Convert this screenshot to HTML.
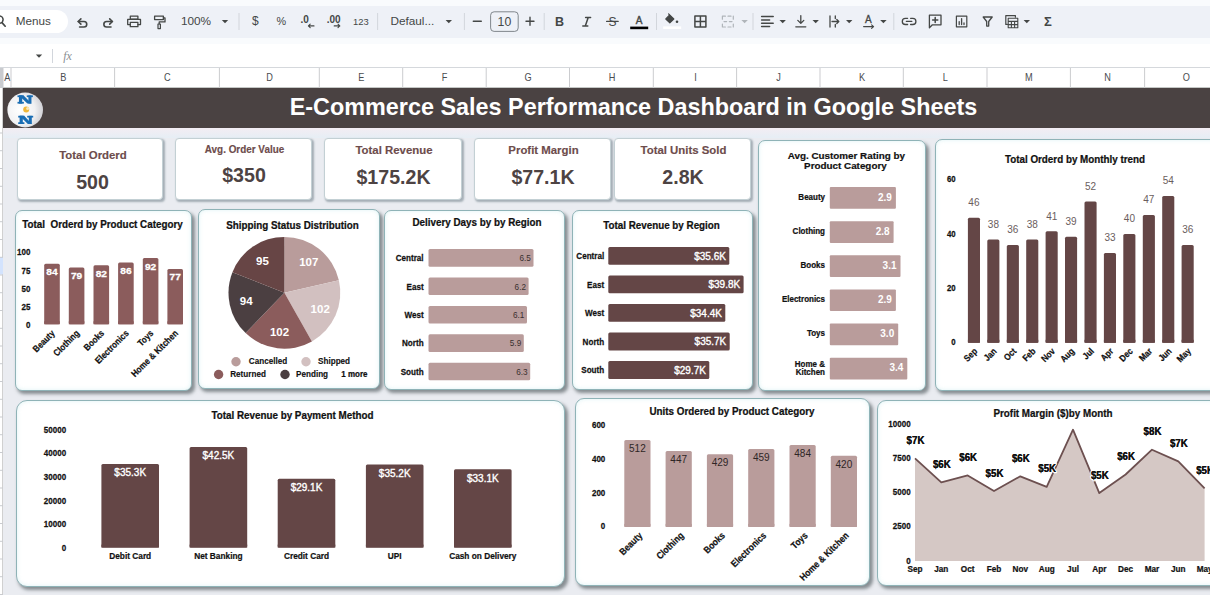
<!DOCTYPE html>
<html>
<head>
<meta charset="utf-8">
<title>E-Commerce Sales Performance Dashboard</title>
<style>
*{box-sizing:border-box;margin:0;padding:0}
html,body{width:1210px;height:595px;overflow:hidden;background:#f9fbfd;font-family:"Liberation Sans",sans-serif}
#root{position:relative;width:1210px;height:595px;overflow:hidden;background:#f9fbfd}
.abs{position:absolute}
#toolbar{left:0;top:6px;width:1210px;height:32px;background:#eef1f7}
#menus{left:-14px;top:10px;width:82px;height:23px;background:#fff;border-radius:12px}
#fbar{left:0;top:44px;width:1210px;height:24px;background:#fff;border-bottom:1px solid #d5d8dc}
#colhdr{left:0;top:68px;width:1210px;height:20px;background:#fff;border-bottom:1px solid #c4c7c5}
#sheet{left:0;top:88px;width:1210px;height:507px;background:#eaecf1}
#strip{left:3px;top:128px;width:1207px;height:10px;background:linear-gradient(#f3edf3,#e6eef5)}
#rowhdr{left:0;top:68px;width:3px;height:527px;background:#fff;border-right:1px solid #d0d0d0}
#banner{left:3px;top:88px;width:1207px;height:40px;background:#4a4242}
#title{left:3px;top:88px;width:1261px;height:40px;line-height:39px;text-align:center;color:#fff;font-weight:bold;font-size:23.4px;white-space:nowrap}
.kpi{position:absolute;background:#fff;border:1px solid #c3d0d4;box-shadow:1.5px 1.5px 2px rgba(80,100,110,.45)}
.card{position:absolute;background:#fff;border:1px solid #8fb3b7;box-shadow:2.5px 3px 3.5px rgba(45,55,60,.52), inset 0 0 4px rgba(200,235,238,.6)}
svg text{font-family:"Liberation Sans",sans-serif}
#main{left:0;top:0}
.tb{font-size:12px;color:#444746;line-height:14px;white-space:nowrap}
.ch{font-size:9.5px;color:#444;top:73px;width:20px;text-align:center;line-height:11px}
.cl{top:68px;width:1px;height:20px;background:#d0d0d0}
</style>
</head>
<body>
<div id="root">
<div id="toolbar" class="abs"></div>
<div id="menus" class="abs"></div>
<div id="fbar" class="abs"></div>
<div id="colhdr" class="abs"></div>
<div id="sheet" class="abs"></div>
<div id="strip" class="abs"></div>
<div id="banner" class="abs"></div>
<div id="title" class="abs">E-Commerce Sales Performance Dashboard in Google Sheets</div>
<div id="rowhdr" class="abs"></div>

<div class="kpi" style="left:17px;top:137.5px;width:146px;height:62.0px;border-radius:4px"></div>
<div class="kpi" style="left:175px;top:137.5px;width:137px;height:62.0px;border-radius:4px"></div>
<div class="kpi" style="left:324px;top:137.5px;width:138px;height:62.0px;border-radius:4px"></div>
<div class="kpi" style="left:474px;top:137.5px;width:137px;height:62.0px;border-radius:4px"></div>
<div class="kpi" style="left:614px;top:137.5px;width:137px;height:62.0px;border-radius:4px"></div>
<div class="card" style="left:15px;top:210px;width:177px;height:181px;border-radius:7px"></div>
<div class="card" style="left:198px;top:209px;width:182px;height:180px;border-radius:7px"></div>
<div class="card" style="left:384px;top:210px;width:181px;height:180px;border-radius:7px"></div>
<div class="card" style="left:572px;top:210px;width:181px;height:180px;border-radius:7px"></div>
<div class="card" style="left:758px;top:140px;width:168px;height:251px;border-radius:7px"></div>
<div class="card" style="left:935px;top:139px;width:295px;height:252px;border-radius:7px"></div>
<div class="card" style="left:15.5px;top:400px;width:549.5px;height:186.60000000000002px;border-radius:11px"></div>
<div class="card" style="left:575px;top:398px;width:295px;height:188px;border-radius:9px"></div>
<div class="card" style="left:877px;top:400px;width:353px;height:186px;border-radius:9px"></div>
<svg id="main" class="abs" width="1210" height="595" viewBox="0 0 1210 595">
<path d="M2,22.6 l3.2,3.6" stroke="#444746" stroke-width="1.7" fill="none" stroke-linecap="round" stroke-linejoin="round" />
<circle cx="-0.6" cy="19.6" r="3.7" fill="none" stroke="#444746" stroke-width="1.5"/>
<text x="33.2" y="25.2" font-size="11.7" font-weight="normal" fill="#444746" text-anchor="middle" >Menus</text>
<path d="M78.2,21.5 h5.8 a2.75,2.75 0 0 1 0,5.5 h-4.4" stroke="#444746" stroke-width="1.6" fill="none" stroke-linecap="round" stroke-linejoin="round" />
<path d="M80.9,18.9 l-2.7,2.6 l2.7,2.6" stroke="#444746" stroke-width="1.6" fill="none" stroke-linecap="round" stroke-linejoin="round" />
<path d="M112.4,21.5 h-5.8 a2.75,2.75 0 0 0 0,5.5 h4.4" stroke="#444746" stroke-width="1.6" fill="none" stroke-linecap="round" stroke-linejoin="round" />
<path d="M109.7,18.9 l2.7,2.6 l-2.7,2.6" stroke="#444746" stroke-width="1.6" fill="none" stroke-linecap="round" stroke-linejoin="round" />
<path d="M130.3,16.2 h7.6 v3 h-7.6 z" stroke="#444746" stroke-width="1.3" fill="none" stroke-linecap="round" stroke-linejoin="round" />
<path d="M130.3,24.6 h-2.6 v-5.2 h12.8 v5.2 h-2.6" stroke="#444746" stroke-width="1.3" fill="none" stroke-linecap="round" stroke-linejoin="round" />
<path d="M130.3,22.4 h7.6 v4.3 h-7.6 z" stroke="#444746" stroke-width="1.3" fill="none" stroke-linecap="round" stroke-linejoin="round" />
<path d="M154.6,16.2 h8.8 v3.4 h-8.8 z" stroke="#444746" stroke-width="1.3" fill="none" stroke-linecap="round" stroke-linejoin="round" />
<path d="M163.4,17.9 h1.6 v4 h-5.8 v2" stroke="#444746" stroke-width="1.3" fill="none" stroke-linecap="round" stroke-linejoin="round" />
<path d="M158,24 h2.4 v4.6 h-2.4 z" stroke="#444746" stroke-width="1.2" fill="none" stroke-linecap="round" stroke-linejoin="round" />
<text x="196" y="25.3" font-size="11.8" font-weight="normal" fill="#444746" text-anchor="middle" >100%</text>
<path d="M221.8,19.9 h6.4 l-3.2,3.4 z" fill="#444746"/>
<rect x="238.5" y="13" width="1" height="17" fill="#d2d6dc"/>
<text x="255.4" y="25.3" font-size="12" font-weight="normal" fill="#444746" text-anchor="middle" >$</text>
<text x="281.4" y="25" font-size="10.8" font-weight="normal" fill="#444746" text-anchor="middle" >%</text>
<text x="304.6" y="23" font-size="10" font-weight="bold" fill="#444746" text-anchor="middle" >.0</text>
<path d="M308.4,25.9 h5.6 M310.2,24.1 l-1.8,1.8 l1.8,1.8" stroke="#444746" stroke-width="1.1" fill="none" stroke-linecap="round" stroke-linejoin="round" />
<text x="333.6" y="23" font-size="10" font-weight="bold" fill="#444746" text-anchor="middle" >.00</text>
<path d="M334.2,25.9 h5.6 M338,24.1 l1.8,1.8 l-1.8,1.8" stroke="#444746" stroke-width="1.1" fill="none" stroke-linecap="round" stroke-linejoin="round" />
<text x="360.8" y="24.6" font-size="9.4" font-weight="normal" fill="#444746" text-anchor="middle" >123</text>
<rect x="377.1" y="13" width="1" height="17" fill="#d2d6dc"/>
<text x="390.4" y="25.2" font-size="11.8" font-weight="normal" fill="#444746" text-anchor="start" >Defaul...</text>
<path d="M445.6,19.9 h6.4 l-3.2,3.4 z" fill="#444746"/>
<rect x="463.9" y="13" width="1" height="17" fill="#d2d6dc"/>
<path d="M473.3,21.2 h8" stroke="#444746" stroke-width="1.4" fill="none" stroke-linecap="round" stroke-linejoin="round" />
<rect x="490.6" y="11.8" width="27.6" height="19.6" rx="3.5" fill="none" stroke="#747a80" stroke-width="0.9"/>
<text x="504.4" y="25.6" font-size="12.3" font-weight="normal" fill="#444746" text-anchor="middle" >10</text>
<path d="M526,21.2 h8 M530,17.2 v8" stroke="#444746" stroke-width="1.4" fill="none" stroke-linecap="round" stroke-linejoin="round" />
<rect x="543.7" y="13" width="1" height="17" fill="#d2d6dc"/>
<text x="559.6" y="26" font-size="12.5" font-weight="bold" fill="#444746" text-anchor="middle" >B</text>
<path d="M585.6,17.6 h5 M582.8,26 h5 M588.2,17.6 l-2.9,8.4" stroke="#444746" stroke-width="1.5" fill="none" stroke-linecap="round" stroke-linejoin="round" />
<text x="612.4" y="25.6" font-size="12" font-weight="normal" fill="#444746" text-anchor="middle" >S</text>
<path d="M606.6,21.4 h11.6" stroke="#444746" stroke-width="1.2" fill="none" stroke-linecap="round" stroke-linejoin="round" />
<text x="639.2" y="23.8" font-size="10" font-weight="normal" fill="#444746" text-anchor="middle" stroke="#444746" stroke-width="0.4">A</text>
<rect x="630.2" y="26.6" width="18" height="2.6" fill="#000"/>
<rect x="656.0" y="13" width="1" height="17" fill="#d2d6dc"/>
<path d="M668.6,13.8 l5.2,5.2 l-4,3.8 l-4,-3.8 l3.4,-3.6" stroke="#444746" stroke-width="1.2" fill="#444746" stroke-linecap="round" stroke-linejoin="round" />
<circle cx="677" cy="21.8" r="1.3" fill="#444746"/>
<rect x="663.2" y="26.4" width="18" height="2.6" fill="#fff"/>
<path d="M694.9,16 h11 v11 h-11 z M700.4,16 v11 M694.9,21.5 h11" stroke="#444746" stroke-width="1.5" fill="none" stroke-linecap="round" stroke-linejoin="round" />
<path d="M722.4,16.2 h3 M728,16.2 h3 M733.3,16.2 v3 M722.4,16.2 v3 M722.4,24 v3 h3 M728,27 h3 M733.3,24 v3 M724,21.6 h2.6 M729.4,21.6 h2.6" stroke="#b0b5ba" stroke-width="1.2" fill="none" stroke-linecap="round" stroke-linejoin="round" />
<path d="M741.4,19.9 h6.4 l-3.2,3.4 z" fill="#b0b5ba"/>
<rect x="752.5" y="13" width="1" height="17" fill="#d2d6dc"/>
<path d="M761.6,16.6 h11.6 M761.6,19.9 h8 M761.6,23.2 h11.6 M761.6,26.5 h8" stroke="#444746" stroke-width="1.5" fill="none" stroke-linecap="round" stroke-linejoin="round" />
<path d="M779.5,19.9 h6.4 l-3.2,3.4 z" fill="#444746"/>
<path d="M800.8,15.6 v7.6 M797.8,20.4 l3,3 l3,-3 M795.8,26.8 h10" stroke="#444746" stroke-width="1.3" fill="none" stroke-linecap="round" stroke-linejoin="round" />
<path d="M812.5,19.9 h6.4 l-3.2,3.4 z" fill="#444746"/>
<path d="M830,16 v11 M835.3,16 v2.6 M835.3,24.4 v2.6 M832,21.5 h6.6 M836.8,19.5 l2,2 l-2,2" stroke="#444746" stroke-width="1.3" fill="none" stroke-linecap="round" stroke-linejoin="round" />
<path d="M846.0,19.9 h6.4 l-3.2,3.4 z" fill="#444746"/>
<text x="868.4" y="23.4" font-size="10" font-weight="normal" fill="#444746" text-anchor="middle" stroke="#444746" stroke-width="0.3">A</text>
<path d="M863.6,26.6 h10 M871.6,24.8 l2,1.8 l-2,1.8" stroke="#444746" stroke-width="1.1" fill="none" stroke-linecap="round" stroke-linejoin="round" />
<path d="M880.1999999999999,19.9 h6.4 l-3.2,3.4 z" fill="#444746"/>
<rect x="893.3" y="13" width="1" height="17" fill="#d2d6dc"/>
<path d="M907.6,18.3 h-2.2 a3.1,3.1 0 0 0 0,6.2 h2.2 M910.6,18.3 h2.2 a3.1,3.1 0 0 1 0,6.2 h-2.2 M906.4,21.4 h5.4" stroke="#444746" stroke-width="1.3" fill="none" stroke-linecap="round" stroke-linejoin="round" />
<path d="M929.4,15.2 h11.6 v9.6 h-8.6 l-3,3 z" stroke="#444746" stroke-width="1.3" fill="none" stroke-linecap="round" stroke-linejoin="round" />
<path d="M935.2,17.4 v5.2 M932.6,20 h5.2" stroke="#444746" stroke-width="1.5" fill="none" stroke-linecap="round" stroke-linejoin="round" />
<path d="M956.4,16.2 h10.4 v10.6 h-10.4 z" stroke="#444746" stroke-width="1.2" fill="none" stroke-linecap="round" stroke-linejoin="round" />
<path d="M959.2,24.6 v-3 M961.6,24.6 v-6 M964,24.6 v-1.6" stroke="#444746" stroke-width="1.3" fill="none" stroke-linecap="round" stroke-linejoin="round" />
<path d="M983.2,17 h9 l-3.5,4.5 v4.6 h-2 v-4.6 z" stroke="#444746" stroke-width="1.3" fill="none" stroke-linecap="round" stroke-linejoin="round" />
<path d="M1007.4,24.4 h-1.6 v-8.8 h9.6 v1.6" stroke="#444746" stroke-width="1.2" fill="none" stroke-linecap="round" stroke-linejoin="round" />
<path d="M1008.2,18.2 h9.6 v9.6 h-9.6 z M1008.2,21.4 h9.6 M1011.4,21.4 v6.4 M1014.6,21.4 v6.4 M1008.2,24.6 h9.6" stroke="#444746" stroke-width="1.1" fill="none" stroke-linecap="round" stroke-linejoin="round" />
<path d="M1023.5999999999999,19.9 h6.4 l-3.2,3.4 z" fill="#444746"/>
<text x="1047.8" y="26" font-size="13" font-weight="bold" fill="#444746" text-anchor="middle" >&#931;</text>
<path d="M35.8,54.4 h6.4 l-3.2,3.4 z" fill="#444746"/>
<rect x="52" y="49" width="1" height="14" fill="#d2d6dc"/>
<text x="67.5" y="60" font-size="12" font-weight="normal" fill="#8a8f94" text-anchor="middle" font-style="italic" style="font-family:'Liberation Serif',serif">fx</text>
<text transform="translate(7.4,80.7) scale(1,1.1)" font-size="9.2" fill="#4a4d50" text-anchor="middle">A</text>
<text transform="translate(63.2,80.7) scale(1,1.1)" font-size="9.2" fill="#4a4d50" text-anchor="middle">B</text>
<text transform="translate(167.4,80.7) scale(1,1.1)" font-size="9.2" fill="#4a4d50" text-anchor="middle">C</text>
<text transform="translate(269.5,80.7) scale(1,1.1)" font-size="9.2" fill="#4a4d50" text-anchor="middle">D</text>
<text transform="translate(361.2,80.7) scale(1,1.1)" font-size="9.2" fill="#4a4d50" text-anchor="middle">E</text>
<text transform="translate(444.6,80.7) scale(1,1.1)" font-size="9.2" fill="#4a4d50" text-anchor="middle">F</text>
<text transform="translate(528,80.7) scale(1,1.1)" font-size="9.2" fill="#4a4d50" text-anchor="middle">G</text>
<text transform="translate(612,80.7) scale(1,1.1)" font-size="9.2" fill="#4a4d50" text-anchor="middle">H</text>
<text transform="translate(695.5,80.7) scale(1,1.1)" font-size="9.2" fill="#4a4d50" text-anchor="middle">I</text>
<text transform="translate(778.5,80.7) scale(1,1.1)" font-size="9.2" fill="#4a4d50" text-anchor="middle">J</text>
<text transform="translate(862,80.7) scale(1,1.1)" font-size="9.2" fill="#4a4d50" text-anchor="middle">K</text>
<text transform="translate(945.3,80.7) scale(1,1.1)" font-size="9.2" fill="#4a4d50" text-anchor="middle">L</text>
<text transform="translate(1028.9,80.7) scale(1,1.1)" font-size="9.2" fill="#4a4d50" text-anchor="middle">M</text>
<text transform="translate(1107.5,80.7) scale(1,1.1)" font-size="9.2" fill="#4a4d50" text-anchor="middle">N</text>
<text transform="translate(1186.2,80.7) scale(1,1.1)" font-size="9.2" fill="#4a4d50" text-anchor="middle">O</text>
<rect x="2.5" y="68" width="1" height="20" fill="#cbcccf"/>
<rect x="10.5" y="68" width="1" height="20" fill="#cbcccf"/>
<rect x="114.1" y="68" width="1" height="20" fill="#cbcccf"/>
<rect x="218.9" y="68" width="1" height="20" fill="#cbcccf"/>
<rect x="318.8" y="68" width="1" height="20" fill="#cbcccf"/>
<rect x="402.2" y="68" width="1" height="20" fill="#cbcccf"/>
<rect x="485.7" y="68" width="1" height="20" fill="#cbcccf"/>
<rect x="569.0" y="68" width="1" height="20" fill="#cbcccf"/>
<rect x="652.8" y="68" width="1" height="20" fill="#cbcccf"/>
<rect x="736.1" y="68" width="1" height="20" fill="#cbcccf"/>
<rect x="819.5" y="68" width="1" height="20" fill="#cbcccf"/>
<rect x="902.8" y="68" width="1" height="20" fill="#cbcccf"/>
<rect x="986.5" y="68" width="1" height="20" fill="#cbcccf"/>
<rect x="1069.9" y="68" width="1" height="20" fill="#cbcccf"/>
<rect x="1144.1" y="68" width="1" height="20" fill="#cbcccf"/>
<rect x="0" y="68" width="3" height="20" fill="#c9cbcf"/>
<rect x="0" y="257" width="3" height="17.6" fill="#d3e3fd"/>
<rect x="0" y="132.5" width="3" height="1" fill="#c9cbcf"/>
<rect x="0" y="150.2" width="3" height="1" fill="#c9cbcf"/>
<rect x="0" y="168.0" width="3" height="1" fill="#c9cbcf"/>
<rect x="0" y="185.8" width="3" height="1" fill="#c9cbcf"/>
<rect x="0" y="203.5" width="3" height="1" fill="#c9cbcf"/>
<rect x="0" y="221.2" width="3" height="1" fill="#c9cbcf"/>
<rect x="0" y="239.0" width="3" height="1" fill="#c9cbcf"/>
<rect x="0" y="256.8" width="3" height="1" fill="#c9cbcf"/>
<rect x="0" y="274.5" width="3" height="1" fill="#c9cbcf"/>
<rect x="0" y="292.2" width="3" height="1" fill="#c9cbcf"/>
<rect x="0" y="310.0" width="3" height="1" fill="#c9cbcf"/>
<rect x="0" y="327.8" width="3" height="1" fill="#c9cbcf"/>
<rect x="0" y="345.5" width="3" height="1" fill="#c9cbcf"/>
<rect x="0" y="363.2" width="3" height="1" fill="#c9cbcf"/>
<rect x="0" y="381.0" width="3" height="1" fill="#c9cbcf"/>
<rect x="0" y="398.8" width="3" height="1" fill="#c9cbcf"/>
<rect x="0" y="416.5" width="3" height="1" fill="#c9cbcf"/>
<rect x="0" y="434.2" width="3" height="1" fill="#c9cbcf"/>
<rect x="0" y="452.0" width="3" height="1" fill="#c9cbcf"/>
<rect x="0" y="469.8" width="3" height="1" fill="#c9cbcf"/>
<rect x="0" y="487.5" width="3" height="1" fill="#c9cbcf"/>
<rect x="0" y="505.2" width="3" height="1" fill="#c9cbcf"/>
<rect x="0" y="523.0" width="3" height="1" fill="#c9cbcf"/>
<rect x="0" y="540.8" width="3" height="1" fill="#c9cbcf"/>
<rect x="0" y="558.5" width="3" height="1" fill="#c9cbcf"/>
<rect x="0" y="576.2" width="3" height="1" fill="#c9cbcf"/>
<rect x="0" y="594.0" width="3" height="1" fill="#c9cbcf"/>
<defs><radialGradient id="lg" cx="0.35" cy="0.5" r="0.7"><stop offset="0" stop-color="#ffffff"/><stop offset="0.6" stop-color="#f1f1f3"/><stop offset="1" stop-color="#c9c9cf"/></radialGradient></defs>
<ellipse cx="25.2" cy="110" rx="17.8" ry="17.4" fill="url(#lg)"/>
<g transform="translate(17.5,95.4) scale(1.027,1.025)" fill="#1a6db3"><rect x="0" y="0" width="6" height="1.7"/><rect x="1.4" y="0" width="3.2" height="8"/><rect x="0" y="6.3" width="6.2" height="1.7"/><rect x="9" y="0" width="6" height="1.7"/><rect x="10.6" y="0" width="3" height="8"/><polygon points="1.4,0 6,0 13.6,8 9.6,8"/></g>
<g transform="translate(18.2,115.8) scale(1.000,1.025)" fill="#1a6db3"><rect x="0" y="0" width="6" height="1.7"/><rect x="1.4" y="0" width="3.2" height="8"/><rect x="0" y="6.3" width="6.2" height="1.7"/><rect x="9" y="0" width="6" height="1.7"/><rect x="10.6" y="0" width="3" height="8"/><polygon points="1.4,0 6,0 13.6,8 9.6,8"/></g>
<circle cx="26.2" cy="109.4" r="3" fill="#f0b73a"/>
<circle cx="27.6" cy="108.6" r="1.5" fill="#f7e6b8"/>
<text transform="translate(93.0,158.7) scale(1,1.03)" font-size="11.4" font-weight="bold" fill="#6d4c4c" text-anchor="middle" stroke="#6d4c4c" stroke-width="0.15" >Total Orderd</text>
<text transform="translate(92.5,188.6) scale(1,1.0)" font-size="19.6" font-weight="bold" fill="#4d4343" text-anchor="middle" >500</text>
<text transform="translate(244.5,152.9) scale(1,1.08)" font-size="9.9" font-weight="bold" fill="#6d4c4c" text-anchor="middle" stroke="#6d4c4c" stroke-width="0.15" >Avg. Order Value</text>
<text transform="translate(244.0,182.2) scale(1,1.0)" font-size="19.6" font-weight="bold" fill="#4d4343" text-anchor="middle" >$350</text>
<text transform="translate(394.0,154.1) scale(1,1.03)" font-size="11.4" font-weight="bold" fill="#6d4c4c" text-anchor="middle" stroke="#6d4c4c" stroke-width="0.15" >Total Revenue</text>
<text transform="translate(393.5,183.8) scale(1,1.0)" font-size="19.6" font-weight="bold" fill="#4d4343" text-anchor="middle" >$175.2K</text>
<text transform="translate(543.5,154.1) scale(1,1.03)" font-size="11.4" font-weight="bold" fill="#6d4c4c" text-anchor="middle" stroke="#6d4c4c" stroke-width="0.15" >Profit Margin</text>
<text transform="translate(543.0,183.8) scale(1,1.0)" font-size="19.6" font-weight="bold" fill="#4d4343" text-anchor="middle" >$77.1K</text>
<text transform="translate(683.5,154.1) scale(1,1.03)" font-size="11.4" font-weight="bold" fill="#6d4c4c" text-anchor="middle" stroke="#6d4c4c" stroke-width="0.15" >Total Units Sold</text>
<text transform="translate(683.0,183.8) scale(1,1.0)" font-size="19.6" font-weight="bold" fill="#4d4343" text-anchor="middle" >2.8K</text>
<text transform="translate(22.3,228.2) scale(1,1.12)" font-size="9.85" font-weight="bold" fill="#111" text-anchor="start" stroke="#111" stroke-width="0.22" xml:space="preserve">Total  Orderd by Product Category</text>
<text transform="translate(30.4,255.4) scale(1,1.2)" font-size="8.0" font-weight="bold" fill="#111" text-anchor="end" stroke="#111" stroke-width="0.22" >100</text>
<text transform="translate(30.4,273.5) scale(1,1.2)" font-size="8.0" font-weight="bold" fill="#111" text-anchor="end" stroke="#111" stroke-width="0.22" >75</text>
<text transform="translate(30.4,291.5) scale(1,1.2)" font-size="8.0" font-weight="bold" fill="#111" text-anchor="end" stroke="#111" stroke-width="0.22" >50</text>
<text transform="translate(30.4,309.6) scale(1,1.2)" font-size="8.0" font-weight="bold" fill="#111" text-anchor="end" stroke="#111" stroke-width="0.22" >25</text>
<text transform="translate(30.4,327.6) scale(1,1.2)" font-size="8.0" font-weight="bold" fill="#111" text-anchor="end" stroke="#111" stroke-width="0.22" >0</text>
<rect x="44.2" y="263.8" width="15.6" height="60.5" fill="#8b5c5c" rx="1.5" />
<rect x="44.2" y="321.3" width="15.6" height="3.0" fill="#8b5c5c" rx="0" />
<text transform="translate(52.0,275.3) scale(1,0.93)" font-size="10.2" font-weight="bold" fill="#fff" text-anchor="middle" stroke="#fff" stroke-width="0.3" >84</text>
<text transform="translate(55.4,333.9) rotate(-45) scale(1,1.15)" font-size="8.0" font-weight="bold" fill="#111" stroke="#111" stroke-width="0.2" text-anchor="end">Beauty</text>
<rect x="68.8" y="267.4" width="15.6" height="56.9" fill="#8b5c5c" rx="1.5" />
<rect x="68.8" y="321.3" width="15.6" height="3.0" fill="#8b5c5c" rx="0" />
<text transform="translate(76.6,278.9) scale(1,0.93)" font-size="10.2" font-weight="bold" fill="#fff" text-anchor="middle" stroke="#fff" stroke-width="0.3" >79</text>
<text transform="translate(80.0,333.9) rotate(-45) scale(1,1.15)" font-size="8.0" font-weight="bold" fill="#111" stroke="#111" stroke-width="0.2" text-anchor="end">Clothing</text>
<rect x="93.5" y="265.3" width="15.6" height="59.0" fill="#8b5c5c" rx="1.5" />
<rect x="93.5" y="321.3" width="15.6" height="3.0" fill="#8b5c5c" rx="0" />
<text transform="translate(101.3,276.8) scale(1,0.93)" font-size="10.2" font-weight="bold" fill="#fff" text-anchor="middle" stroke="#fff" stroke-width="0.3" >82</text>
<text transform="translate(104.7,333.9) rotate(-45) scale(1,1.15)" font-size="8.0" font-weight="bold" fill="#111" stroke="#111" stroke-width="0.2" text-anchor="end">Books</text>
<rect x="118.1" y="262.4" width="15.6" height="61.9" fill="#8b5c5c" rx="1.5" />
<rect x="118.1" y="321.3" width="15.6" height="3.0" fill="#8b5c5c" rx="0" />
<text transform="translate(125.9,273.9) scale(1,0.93)" font-size="10.2" font-weight="bold" fill="#fff" text-anchor="middle" stroke="#fff" stroke-width="0.3" >86</text>
<text transform="translate(129.3,333.9) rotate(-45) scale(1,1.15)" font-size="8.0" font-weight="bold" fill="#111" stroke="#111" stroke-width="0.2" text-anchor="end">Electronics</text>
<rect x="142.8" y="258.1" width="15.6" height="66.2" fill="#8b5c5c" rx="1.5" />
<rect x="142.8" y="321.3" width="15.6" height="3.0" fill="#8b5c5c" rx="0" />
<text transform="translate(150.6,269.6) scale(1,0.93)" font-size="10.2" font-weight="bold" fill="#fff" text-anchor="middle" stroke="#fff" stroke-width="0.3" >92</text>
<text transform="translate(154.0,333.9) rotate(-45) scale(1,1.15)" font-size="8.0" font-weight="bold" fill="#111" stroke="#111" stroke-width="0.2" text-anchor="end">Toys</text>
<rect x="167.4" y="268.9" width="15.6" height="55.4" fill="#8b5c5c" rx="1.5" />
<rect x="167.4" y="321.3" width="15.6" height="3.0" fill="#8b5c5c" rx="0" />
<text transform="translate(175.2,280.4) scale(1,0.93)" font-size="10.2" font-weight="bold" fill="#fff" text-anchor="middle" stroke="#fff" stroke-width="0.3" >77</text>
<text transform="translate(178.6,333.9) rotate(-45) scale(1,1.15)" font-size="8.0" font-weight="bold" fill="#111" stroke="#111" stroke-width="0.2" text-anchor="end">Home &amp; Kitchen</text>
<text transform="translate(292.5,228.7) scale(1,1.12)" font-size="9.85" font-weight="bold" fill="#111" text-anchor="middle" stroke="#111" stroke-width="0.22" >Shipping Status Distribution</text>
<path d="M284.4,292.8 L284.40,236.90 A55.9,55.9 0 0 1 338.88,280.26 Z" fill="#b99c9b"/>
<text transform="translate(308.8,266.3) scale(1,1.0)" font-size="11.5" font-weight="bold" fill="#fff" text-anchor="middle" >107</text>
<path d="M284.4,292.8 L338.88,280.26 A55.9,55.9 0 0 1 311.94,341.44 Z" fill="#d2c0c0"/>
<text transform="translate(320.2,312.7) scale(1,1.0)" font-size="11.5" font-weight="bold" fill="#fff" text-anchor="middle" >102</text>
<path d="M284.4,292.8 L311.94,341.44 A55.9,55.9 0 0 1 245.62,333.07 Z" fill="#8b5c5c"/>
<text transform="translate(279.5,335.7) scale(1,1.0)" font-size="11.5" font-weight="bold" fill="#fff" text-anchor="middle" >102</text>
<path d="M284.4,292.8 L245.62,333.07 A55.9,55.9 0 0 1 232.43,272.22 Z" fill="#4b3f41"/>
<text transform="translate(246.2,305.2) scale(1,1.0)" font-size="11.5" font-weight="bold" fill="#fff" text-anchor="middle" >94</text>
<path d="M284.4,292.8 L232.43,272.22 A55.9,55.9 0 0 1 284.40,236.90 Z" fill="#674545"/>
<text transform="translate(262.4,264.6) scale(1,1.0)" font-size="11.5" font-weight="bold" fill="#fff" text-anchor="middle" >95</text>
<circle cx="236" cy="361.7" r="4.7" fill="#b99c9b"/>
<text transform="translate(248.8,364.4) scale(1,1.08)" font-size="8.15" font-weight="bold" fill="#111" text-anchor="start" stroke="#111" stroke-width="0.12" >Cancelled</text>
<circle cx="306" cy="361.7" r="4.7" fill="#d2c0c0"/>
<text transform="translate(318.0,364.4) scale(1,1.08)" font-size="8.15" font-weight="bold" fill="#111" text-anchor="start" stroke="#111" stroke-width="0.12" >Shipped</text>
<circle cx="218.6" cy="374.5" r="4.7" fill="#8b5c5c"/>
<text transform="translate(230.2,377.2) scale(1,1.08)" font-size="8.15" font-weight="bold" fill="#111" text-anchor="start" stroke="#111" stroke-width="0.12" >Returned</text>
<circle cx="285" cy="374.5" r="4.7" fill="#4b3f41"/>
<text transform="translate(296.0,377.2) scale(1,1.08)" font-size="8.15" font-weight="bold" fill="#111" text-anchor="start" stroke="#111" stroke-width="0.12" >Pending</text>
<text transform="translate(341.3,377.2) scale(1,1.1)" font-size="8" font-weight="bold" fill="#111" text-anchor="start" stroke="#111" stroke-width="0.22" >1 more</text>
<text transform="translate(477.0,226.1) scale(1,1.12)" font-size="9.85" font-weight="bold" fill="#111" text-anchor="middle" stroke="#111" stroke-width="0.22" >Delivery Days by by Region</text>
<rect x="428.5" y="249.1" width="105.0" height="17.6" fill="#b99c9b" rx="1.5" />
<text transform="translate(423.6,261.2) scale(1,1.15)" font-size="8.1" font-weight="bold" fill="#111" text-anchor="end" stroke="#111" stroke-width="0.22" >Central</text>
<text transform="translate(530.9,261.1) scale(1,1.08)" font-size="8.2" font-weight="normal" fill="#3a3030" text-anchor="end" >6.5</text>
<rect x="428.5" y="277.5" width="100.1" height="17.6" fill="#b99c9b" rx="1.5" />
<text transform="translate(423.6,289.6) scale(1,1.15)" font-size="8.1" font-weight="bold" fill="#111" text-anchor="end" stroke="#111" stroke-width="0.22" >East</text>
<text transform="translate(526.0,289.5) scale(1,1.08)" font-size="8.2" font-weight="normal" fill="#3a3030" text-anchor="end" >6.2</text>
<rect x="428.5" y="305.9" width="98.5" height="17.6" fill="#b99c9b" rx="1.5" />
<text transform="translate(423.6,318.0) scale(1,1.15)" font-size="8.1" font-weight="bold" fill="#111" text-anchor="end" stroke="#111" stroke-width="0.22" >West</text>
<text transform="translate(524.4,317.9) scale(1,1.08)" font-size="8.2" font-weight="normal" fill="#3a3030" text-anchor="end" >6.1</text>
<rect x="428.5" y="334.3" width="95.3" height="17.6" fill="#b99c9b" rx="1.5" />
<text transform="translate(423.6,346.4) scale(1,1.15)" font-size="8.1" font-weight="bold" fill="#111" text-anchor="end" stroke="#111" stroke-width="0.22" >North</text>
<text transform="translate(521.2,346.3) scale(1,1.08)" font-size="8.2" font-weight="normal" fill="#3a3030" text-anchor="end" >5.9</text>
<rect x="428.5" y="362.7" width="101.7" height="17.6" fill="#b99c9b" rx="1.5" />
<text transform="translate(423.6,374.8) scale(1,1.15)" font-size="8.1" font-weight="bold" fill="#111" text-anchor="end" stroke="#111" stroke-width="0.22" >South</text>
<text transform="translate(527.6,374.7) scale(1,1.08)" font-size="8.2" font-weight="normal" fill="#3a3030" text-anchor="end" >6.3</text>
<text transform="translate(661.5,228.5) scale(1,1.12)" font-size="9.85" font-weight="bold" fill="#111" text-anchor="middle" stroke="#111" stroke-width="0.22" >Total Revenue by Region</text>
<rect x="608.3" y="246.9" width="121.0" height="17.8" fill="#644646" rx="1.5" />
<text transform="translate(604.2,259.1) scale(1,1.15)" font-size="8.1" font-weight="bold" fill="#111" text-anchor="end" stroke="#111" stroke-width="0.22" >Central</text>
<text transform="translate(725.9,259.6) scale(1,1.0)" font-size="10" font-weight="normal" fill="#fff" text-anchor="end" stroke="#fff" stroke-width="0.35">$35.6K</text>
<rect x="608.3" y="275.4" width="135.3" height="17.8" fill="#644646" rx="1.5" />
<text transform="translate(604.2,287.7) scale(1,1.15)" font-size="8.1" font-weight="bold" fill="#111" text-anchor="end" stroke="#111" stroke-width="0.22" >East</text>
<text transform="translate(740.2,288.1) scale(1,1.0)" font-size="10" font-weight="normal" fill="#fff" text-anchor="end" stroke="#fff" stroke-width="0.35">$39.8K</text>
<rect x="608.3" y="304.0" width="117.0" height="17.8" fill="#644646" rx="1.5" />
<text transform="translate(604.2,316.2) scale(1,1.15)" font-size="8.1" font-weight="bold" fill="#111" text-anchor="end" stroke="#111" stroke-width="0.22" >West</text>
<text transform="translate(721.9,316.7) scale(1,1.0)" font-size="10" font-weight="normal" fill="#fff" text-anchor="end" stroke="#fff" stroke-width="0.35">$34.4K</text>
<rect x="608.3" y="332.6" width="121.4" height="17.8" fill="#644646" rx="1.5" />
<text transform="translate(604.2,344.8) scale(1,1.15)" font-size="8.1" font-weight="bold" fill="#111" text-anchor="end" stroke="#111" stroke-width="0.22" >North</text>
<text transform="translate(726.3,345.2) scale(1,1.0)" font-size="10" font-weight="normal" fill="#fff" text-anchor="end" stroke="#fff" stroke-width="0.35">$35.7K</text>
<rect x="608.3" y="361.1" width="101.0" height="17.8" fill="#644646" rx="1.5" />
<text transform="translate(604.2,373.3) scale(1,1.15)" font-size="8.1" font-weight="bold" fill="#111" text-anchor="end" stroke="#111" stroke-width="0.22" >South</text>
<text transform="translate(705.9,373.8) scale(1,1.0)" font-size="10" font-weight="normal" fill="#fff" text-anchor="end" stroke="#fff" stroke-width="0.35">$29.7K</text>
<text transform="translate(846.3,159.4) scale(1,1.0)" font-size="9.85" font-weight="bold" fill="#111" text-anchor="middle" stroke="#111" stroke-width="0.2" >Avg. Customer Rating by</text>
<text transform="translate(845.4,168.6) scale(1,1.0)" font-size="9.85" font-weight="bold" fill="#111" text-anchor="middle" stroke="#111" stroke-width="0.2" >Product Category</text>
<rect x="829.8" y="187.0" width="66.1" height="21.7" fill="#b99c9b" rx="1" />
<text transform="translate(825.0,199.7) scale(1,1.08)" font-size="8" font-weight="bold" fill="#111" text-anchor="end" stroke="#111" stroke-width="0.22" >Beauty</text>
<text transform="translate(891.9,200.5) scale(1,1.0)" font-size="10" font-weight="bold" fill="#fff" text-anchor="end" >2.9</text>
<rect x="829.8" y="221.2" width="63.8" height="21.7" fill="#b99c9b" rx="1" />
<text transform="translate(825.0,233.8) scale(1,1.08)" font-size="8" font-weight="bold" fill="#111" text-anchor="end" stroke="#111" stroke-width="0.22" >Clothing</text>
<text transform="translate(889.6,234.6) scale(1,1.0)" font-size="10" font-weight="bold" fill="#fff" text-anchor="end" >2.8</text>
<rect x="829.8" y="255.3" width="70.7" height="21.7" fill="#b99c9b" rx="1" />
<text transform="translate(825.0,268.0) scale(1,1.08)" font-size="8" font-weight="bold" fill="#111" text-anchor="end" stroke="#111" stroke-width="0.22" >Books</text>
<text transform="translate(896.5,268.8) scale(1,1.0)" font-size="10" font-weight="bold" fill="#fff" text-anchor="end" >3.1</text>
<rect x="829.8" y="289.4" width="66.1" height="21.7" fill="#b99c9b" rx="1" />
<text transform="translate(825.0,302.1) scale(1,1.08)" font-size="8" font-weight="bold" fill="#111" text-anchor="end" stroke="#111" stroke-width="0.22" >Electronics</text>
<text transform="translate(891.9,302.9) scale(1,1.0)" font-size="10" font-weight="bold" fill="#fff" text-anchor="end" >2.9</text>
<rect x="829.8" y="323.6" width="68.4" height="21.7" fill="#b99c9b" rx="1" />
<text transform="translate(825.0,336.3) scale(1,1.08)" font-size="8" font-weight="bold" fill="#111" text-anchor="end" stroke="#111" stroke-width="0.22" >Toys</text>
<text transform="translate(894.2,337.1) scale(1,1.0)" font-size="10" font-weight="bold" fill="#fff" text-anchor="end" >3.0</text>
<rect x="829.8" y="357.8" width="77.5" height="21.7" fill="#b99c9b" rx="1" />
<text transform="translate(825.0,366.7) scale(1,1.08)" font-size="8" font-weight="bold" fill="#111" text-anchor="end" stroke="#111" stroke-width="0.22" >Home &amp;</text>
<text transform="translate(825.0,375.0) scale(1,1.08)" font-size="8" font-weight="bold" fill="#111" text-anchor="end" stroke="#111" stroke-width="0.22" >Kitchen</text>
<text transform="translate(903.3,371.2) scale(1,1.0)" font-size="10" font-weight="bold" fill="#fff" text-anchor="end" >3.4</text>
<text transform="translate(1075.0,162.6) scale(1,1.12)" font-size="9.85" font-weight="bold" fill="#111" text-anchor="middle" stroke="#111" stroke-width="0.22" >Total Orderd by Monthly trend</text>
<text transform="translate(955.6,182.1) scale(1,1.2)" font-size="7.8" font-weight="bold" fill="#111" text-anchor="end" stroke="#111" stroke-width="0.22" >60</text>
<text transform="translate(955.6,236.5) scale(1,1.2)" font-size="7.8" font-weight="bold" fill="#111" text-anchor="end" stroke="#111" stroke-width="0.22" >40</text>
<text transform="translate(955.6,291.0) scale(1,1.2)" font-size="7.8" font-weight="bold" fill="#111" text-anchor="end" stroke="#111" stroke-width="0.22" >20</text>
<text transform="translate(955.6,345.4) scale(1,1.2)" font-size="7.8" font-weight="bold" fill="#111" text-anchor="end" stroke="#111" stroke-width="0.22" >0</text>
<rect x="967.9" y="217.7" width="12.1" height="125.1" fill="#644646" rx="1.5" />
<rect x="967.9" y="339.8" width="12.1" height="3.0" fill="#644646" rx="0" />
<text transform="translate(973.9,205.9) scale(1,1.0)" font-size="10" font-weight="normal" fill="#6a5d5d" text-anchor="middle" >46</text>
<text transform="translate(977.9,351.8) rotate(-45) scale(1,1.15)" font-size="8" font-weight="bold" fill="#111" stroke="#111" stroke-width="0.2" text-anchor="end">Sep</text>
<rect x="987.3" y="239.4" width="12.1" height="103.4" fill="#644646" rx="1.5" />
<rect x="987.3" y="339.8" width="12.1" height="3.0" fill="#644646" rx="0" />
<text transform="translate(993.4,227.6) scale(1,1.0)" font-size="10" font-weight="normal" fill="#6a5d5d" text-anchor="middle" >38</text>
<text transform="translate(997.3,351.8) rotate(-45) scale(1,1.15)" font-size="8" font-weight="bold" fill="#111" stroke="#111" stroke-width="0.2" text-anchor="end">Jan</text>
<rect x="1006.8" y="244.9" width="12.1" height="97.9" fill="#644646" rx="1.5" />
<rect x="1006.8" y="339.8" width="12.1" height="3.0" fill="#644646" rx="0" />
<text transform="translate(1012.8,233.1) scale(1,1.0)" font-size="10" font-weight="normal" fill="#6a5d5d" text-anchor="middle" >36</text>
<text transform="translate(1016.8,351.8) rotate(-45) scale(1,1.15)" font-size="8" font-weight="bold" fill="#111" stroke="#111" stroke-width="0.2" text-anchor="end">Oct</text>
<rect x="1026.2" y="239.4" width="12.1" height="103.4" fill="#644646" rx="1.5" />
<rect x="1026.2" y="339.8" width="12.1" height="3.0" fill="#644646" rx="0" />
<text transform="translate(1032.2,227.6) scale(1,1.0)" font-size="10" font-weight="normal" fill="#6a5d5d" text-anchor="middle" >38</text>
<text transform="translate(1036.2,351.8) rotate(-45) scale(1,1.15)" font-size="8" font-weight="bold" fill="#111" stroke="#111" stroke-width="0.2" text-anchor="end">Feb</text>
<rect x="1045.6" y="231.3" width="12.1" height="111.5" fill="#644646" rx="1.5" />
<rect x="1045.6" y="339.8" width="12.1" height="3.0" fill="#644646" rx="0" />
<text transform="translate(1051.7,219.5) scale(1,1.0)" font-size="10" font-weight="normal" fill="#6a5d5d" text-anchor="middle" >41</text>
<text transform="translate(1055.6,351.8) rotate(-45) scale(1,1.15)" font-size="8" font-weight="bold" fill="#111" stroke="#111" stroke-width="0.2" text-anchor="end">Nov</text>
<rect x="1065.0" y="236.7" width="12.1" height="106.1" fill="#644646" rx="1.5" />
<rect x="1065.0" y="339.8" width="12.1" height="3.0" fill="#644646" rx="0" />
<text transform="translate(1071.1,224.9) scale(1,1.0)" font-size="10" font-weight="normal" fill="#6a5d5d" text-anchor="middle" >39</text>
<text transform="translate(1075.0,351.8) rotate(-45) scale(1,1.15)" font-size="8" font-weight="bold" fill="#111" stroke="#111" stroke-width="0.2" text-anchor="end">Aug</text>
<rect x="1084.5" y="201.4" width="12.1" height="141.4" fill="#644646" rx="1.5" />
<rect x="1084.5" y="339.8" width="12.1" height="3.0" fill="#644646" rx="0" />
<text transform="translate(1090.5,189.6) scale(1,1.0)" font-size="10" font-weight="normal" fill="#6a5d5d" text-anchor="middle" >52</text>
<text transform="translate(1094.5,351.8) rotate(-45) scale(1,1.15)" font-size="8" font-weight="bold" fill="#111" stroke="#111" stroke-width="0.2" text-anchor="end">Jul</text>
<rect x="1103.9" y="253.0" width="12.1" height="89.8" fill="#644646" rx="1.5" />
<rect x="1103.9" y="339.8" width="12.1" height="3.0" fill="#644646" rx="0" />
<text transform="translate(1110.0,241.2) scale(1,1.0)" font-size="10" font-weight="normal" fill="#6a5d5d" text-anchor="middle" >33</text>
<text transform="translate(1113.9,351.8) rotate(-45) scale(1,1.15)" font-size="8" font-weight="bold" fill="#111" stroke="#111" stroke-width="0.2" text-anchor="end">Apr</text>
<rect x="1123.3" y="234.0" width="12.1" height="108.8" fill="#644646" rx="1.5" />
<rect x="1123.3" y="339.8" width="12.1" height="3.0" fill="#644646" rx="0" />
<text transform="translate(1129.4,222.2) scale(1,1.0)" font-size="10" font-weight="normal" fill="#6a5d5d" text-anchor="middle" >40</text>
<text transform="translate(1133.3,351.8) rotate(-45) scale(1,1.15)" font-size="8" font-weight="bold" fill="#111" stroke="#111" stroke-width="0.2" text-anchor="end">Dec</text>
<rect x="1142.8" y="215.0" width="12.1" height="127.8" fill="#644646" rx="1.5" />
<rect x="1142.8" y="339.8" width="12.1" height="3.0" fill="#644646" rx="0" />
<text transform="translate(1148.8,203.2) scale(1,1.0)" font-size="10" font-weight="normal" fill="#6a5d5d" text-anchor="middle" >47</text>
<text transform="translate(1152.8,351.8) rotate(-45) scale(1,1.15)" font-size="8" font-weight="bold" fill="#111" stroke="#111" stroke-width="0.2" text-anchor="end">Mar</text>
<rect x="1162.2" y="195.9" width="12.1" height="146.9" fill="#644646" rx="1.5" />
<rect x="1162.2" y="339.8" width="12.1" height="3.0" fill="#644646" rx="0" />
<text transform="translate(1168.2,184.1) scale(1,1.0)" font-size="10" font-weight="normal" fill="#6a5d5d" text-anchor="middle" >54</text>
<text transform="translate(1172.2,351.8) rotate(-45) scale(1,1.15)" font-size="8" font-weight="bold" fill="#111" stroke="#111" stroke-width="0.2" text-anchor="end">Jun</text>
<rect x="1181.6" y="244.9" width="12.1" height="97.9" fill="#644646" rx="1.5" />
<rect x="1181.6" y="339.8" width="12.1" height="3.0" fill="#644646" rx="0" />
<text transform="translate(1187.7,233.1) scale(1,1.0)" font-size="10" font-weight="normal" fill="#6a5d5d" text-anchor="middle" >36</text>
<text transform="translate(1191.6,351.8) rotate(-45) scale(1,1.15)" font-size="8" font-weight="bold" fill="#111" stroke="#111" stroke-width="0.2" text-anchor="end">May</text>
<text transform="translate(292.5,418.9) scale(1,1.12)" font-size="9.85" font-weight="bold" fill="#111" text-anchor="middle" stroke="#111" stroke-width="0.22" >Total Revenue by Payment Method</text>
<text transform="translate(66.1,432.7) scale(1,1.2)" font-size="8.0" font-weight="bold" fill="#111" text-anchor="end" stroke="#111" stroke-width="0.22" >50000</text>
<text transform="translate(66.1,456.3) scale(1,1.2)" font-size="8.0" font-weight="bold" fill="#111" text-anchor="end" stroke="#111" stroke-width="0.22" >40000</text>
<text transform="translate(66.1,479.9) scale(1,1.2)" font-size="8.0" font-weight="bold" fill="#111" text-anchor="end" stroke="#111" stroke-width="0.22" >30000</text>
<text transform="translate(66.1,503.5) scale(1,1.2)" font-size="8.0" font-weight="bold" fill="#111" text-anchor="end" stroke="#111" stroke-width="0.22" >20000</text>
<text transform="translate(66.1,527.1) scale(1,1.2)" font-size="8.0" font-weight="bold" fill="#111" text-anchor="end" stroke="#111" stroke-width="0.22" >10000</text>
<text transform="translate(66.1,550.7) scale(1,1.2)" font-size="8.0" font-weight="bold" fill="#111" text-anchor="end" stroke="#111" stroke-width="0.22" >0</text>
<rect x="101.4" y="464.1" width="57.6" height="83.5" fill="#644646" rx="1.5" />
<rect x="101.4" y="544.6" width="57.6" height="3.0" fill="#644646" rx="0" />
<text transform="translate(130.2,476.3) scale(1,1.0)" font-size="10" font-weight="normal" fill="#fff" text-anchor="middle" stroke="#fff" stroke-width="0.35">$35.3K</text>
<text transform="translate(130.2,559.0) scale(1,1.0)" font-size="8.3" font-weight="bold" fill="#111" text-anchor="middle" stroke="#111" stroke-width="0.2" >Debit Card</text>
<rect x="189.6" y="447.1" width="57.6" height="100.5" fill="#644646" rx="1.5" />
<rect x="189.6" y="544.6" width="57.6" height="3.0" fill="#644646" rx="0" />
<text transform="translate(218.4,459.3) scale(1,1.0)" font-size="10" font-weight="normal" fill="#fff" text-anchor="middle" stroke="#fff" stroke-width="0.35">$42.5K</text>
<text transform="translate(218.4,559.0) scale(1,1.0)" font-size="8.3" font-weight="bold" fill="#111" text-anchor="middle" stroke="#111" stroke-width="0.2" >Net Banking</text>
<rect x="277.7" y="478.8" width="57.6" height="68.8" fill="#644646" rx="1.5" />
<rect x="277.7" y="544.6" width="57.6" height="3.0" fill="#644646" rx="0" />
<text transform="translate(306.5,491.0) scale(1,1.0)" font-size="10" font-weight="normal" fill="#fff" text-anchor="middle" stroke="#fff" stroke-width="0.35">$29.1K</text>
<text transform="translate(306.5,559.0) scale(1,1.0)" font-size="8.3" font-weight="bold" fill="#111" text-anchor="middle" stroke="#111" stroke-width="0.2" >Credit Card</text>
<rect x="365.9" y="464.4" width="57.6" height="83.2" fill="#644646" rx="1.5" />
<rect x="365.9" y="544.6" width="57.6" height="3.0" fill="#644646" rx="0" />
<text transform="translate(394.7,476.5) scale(1,1.0)" font-size="10" font-weight="normal" fill="#fff" text-anchor="middle" stroke="#fff" stroke-width="0.35">$35.2K</text>
<text transform="translate(394.7,559.0) scale(1,1.0)" font-size="8.3" font-weight="bold" fill="#111" text-anchor="middle" stroke="#111" stroke-width="0.2" >UPI</text>
<rect x="454.0" y="469.3" width="57.6" height="78.3" fill="#644646" rx="1.5" />
<rect x="454.0" y="544.6" width="57.6" height="3.0" fill="#644646" rx="0" />
<text transform="translate(482.8,481.5) scale(1,1.0)" font-size="10" font-weight="normal" fill="#fff" text-anchor="middle" stroke="#fff" stroke-width="0.35">$33.1K</text>
<text transform="translate(482.8,559.0) scale(1,1.0)" font-size="8.3" font-weight="bold" fill="#111" text-anchor="middle" stroke="#111" stroke-width="0.2" >Cash on Delivery</text>
<text transform="translate(732.0,414.7) scale(1,1.12)" font-size="9.85" font-weight="bold" fill="#111" text-anchor="middle" stroke="#111" stroke-width="0.22" >Units Ordered by Product Category</text>
<text transform="translate(605.3,428.4) scale(1,1.2)" font-size="8.0" font-weight="bold" fill="#111" text-anchor="end" stroke="#111" stroke-width="0.22" >600</text>
<text transform="translate(605.3,462.1) scale(1,1.2)" font-size="8.0" font-weight="bold" fill="#111" text-anchor="end" stroke="#111" stroke-width="0.22" >400</text>
<text transform="translate(605.3,495.7) scale(1,1.2)" font-size="8.0" font-weight="bold" fill="#111" text-anchor="end" stroke="#111" stroke-width="0.22" >200</text>
<text transform="translate(605.3,529.4) scale(1,1.2)" font-size="8.0" font-weight="bold" fill="#111" text-anchor="end" stroke="#111" stroke-width="0.22" >0</text>
<rect x="624.3" y="440.1" width="26.2" height="86.8" fill="#b99c9b" rx="1.5" />
<rect x="624.3" y="523.9" width="26.2" height="3.0" fill="#b99c9b" rx="0" />
<text transform="translate(637.4,452.1) scale(1,1.0)" font-size="10" font-weight="normal" fill="#2e2626" text-anchor="middle" >512</text>
<text transform="translate(643.0,536.2) rotate(-44.4) scale(1,1.15)" font-size="8.35" font-weight="bold" fill="#111" stroke="#111" stroke-width="0.2" text-anchor="end">Beauty</text>
<rect x="665.6" y="451.1" width="26.2" height="75.8" fill="#b99c9b" rx="1.5" />
<rect x="665.6" y="523.9" width="26.2" height="3.0" fill="#b99c9b" rx="0" />
<text transform="translate(678.7,463.1) scale(1,1.0)" font-size="10" font-weight="normal" fill="#2e2626" text-anchor="middle" >447</text>
<text transform="translate(684.3,536.2) rotate(-44.4) scale(1,1.15)" font-size="8.35" font-weight="bold" fill="#111" stroke="#111" stroke-width="0.2" text-anchor="end">Clothing</text>
<rect x="706.9" y="454.2" width="26.2" height="72.7" fill="#b99c9b" rx="1.5" />
<rect x="706.9" y="523.9" width="26.2" height="3.0" fill="#b99c9b" rx="0" />
<text transform="translate(720.0,466.2) scale(1,1.0)" font-size="10" font-weight="normal" fill="#2e2626" text-anchor="middle" >429</text>
<text transform="translate(725.6,536.2) rotate(-44.4) scale(1,1.15)" font-size="8.35" font-weight="bold" fill="#111" stroke="#111" stroke-width="0.2" text-anchor="end">Books</text>
<rect x="748.2" y="449.1" width="26.2" height="77.8" fill="#b99c9b" rx="1.5" />
<rect x="748.2" y="523.9" width="26.2" height="3.0" fill="#b99c9b" rx="0" />
<text transform="translate(761.3,461.1) scale(1,1.0)" font-size="10" font-weight="normal" fill="#2e2626" text-anchor="middle" >459</text>
<text transform="translate(766.9,536.2) rotate(-44.4) scale(1,1.15)" font-size="8.35" font-weight="bold" fill="#111" stroke="#111" stroke-width="0.2" text-anchor="end">Electronics</text>
<rect x="789.5" y="444.9" width="26.2" height="82.0" fill="#b99c9b" rx="1.5" />
<rect x="789.5" y="523.9" width="26.2" height="3.0" fill="#b99c9b" rx="0" />
<text transform="translate(802.6,456.8) scale(1,1.0)" font-size="10" font-weight="normal" fill="#2e2626" text-anchor="middle" >484</text>
<text transform="translate(808.2,536.2) rotate(-44.4) scale(1,1.15)" font-size="8.35" font-weight="bold" fill="#111" stroke="#111" stroke-width="0.2" text-anchor="end">Toys</text>
<rect x="830.8" y="455.7" width="26.2" height="71.2" fill="#b99c9b" rx="1.5" />
<rect x="830.8" y="523.9" width="26.2" height="3.0" fill="#b99c9b" rx="0" />
<text transform="translate(843.9,467.7) scale(1,1.0)" font-size="10" font-weight="normal" fill="#2e2626" text-anchor="middle" >420</text>
<text transform="translate(849.5,536.2) rotate(-44.4) scale(1,1.15)" font-size="8.35" font-weight="bold" fill="#111" stroke="#111" stroke-width="0.2" text-anchor="end">Home &amp; Kitchen</text>
<text transform="translate(1053.0,417.3) scale(1,1.12)" font-size="9.85" font-weight="bold" fill="#111" text-anchor="middle" stroke="#111" stroke-width="0.22" >Profit Margin ($)by Month</text>
<text transform="translate(910.6,426.6) scale(1,1.2)" font-size="8.0" font-weight="bold" fill="#111" text-anchor="end" stroke="#111" stroke-width="0.22" >10000</text>
<text transform="translate(910.6,460.9) scale(1,1.2)" font-size="8.0" font-weight="bold" fill="#111" text-anchor="end" stroke="#111" stroke-width="0.22" >7500</text>
<text transform="translate(910.6,495.1) scale(1,1.2)" font-size="8.0" font-weight="bold" fill="#111" text-anchor="end" stroke="#111" stroke-width="0.22" >5000</text>
<text transform="translate(910.6,529.4) scale(1,1.2)" font-size="8.0" font-weight="bold" fill="#111" text-anchor="end" stroke="#111" stroke-width="0.22" >2500</text>
<text transform="translate(910.6,563.6) scale(1,1.2)" font-size="8.0" font-weight="bold" fill="#111" text-anchor="end" stroke="#111" stroke-width="0.22" >0</text>
<polygon points="915.0,560.9 915.0,458.3 941.3,482.4 967.7,475.4 994.0,491.0 1020.3,476.3 1046.7,486.8 1073.0,429.7 1099.3,493.1 1125.6,474.5 1152.0,449.7 1178.3,461.4 1204.6,488.3 1204.6,560.9" fill="#d5c8c5"/>
<polyline points="915.0,458.3 941.3,482.4 967.7,475.4 994.0,491.0 1020.3,476.3 1046.7,486.8 1073.0,429.7 1099.3,493.1 1125.6,474.5 1152.0,449.7 1178.3,461.4 1204.6,488.3" fill="none" stroke="#6d5050" stroke-width="1.8" stroke-linejoin="round"/>
<text transform="translate(915.0,571.7) scale(1,1.04)" font-size="8.2" font-weight="bold" fill="#111" text-anchor="middle" stroke="#111" stroke-width="0.22" >Sep</text>
<text transform="translate(915.5,443.9) scale(1,1.2)" font-size="9.7" font-weight="bold" fill="#111" text-anchor="middle" stroke="#fff" stroke-width="2.2" paint-order="stroke" stroke-linejoin="round">$7K</text>
<text transform="translate(915.5,443.9) scale(1,1.2)" font-size="9.7" font-weight="bold" fill="#111" text-anchor="middle" stroke="#111" stroke-width="0.1" >$7K</text>
<text transform="translate(941.3,571.7) scale(1,1.04)" font-size="8.2" font-weight="bold" fill="#111" text-anchor="middle" stroke="#111" stroke-width="0.22" >Jan</text>
<text transform="translate(941.8,468.0) scale(1,1.2)" font-size="9.7" font-weight="bold" fill="#111" text-anchor="middle" stroke="#fff" stroke-width="2.2" paint-order="stroke" stroke-linejoin="round">$6K</text>
<text transform="translate(941.8,468.0) scale(1,1.2)" font-size="9.7" font-weight="bold" fill="#111" text-anchor="middle" stroke="#111" stroke-width="0.1" >$6K</text>
<text transform="translate(967.7,571.7) scale(1,1.04)" font-size="8.2" font-weight="bold" fill="#111" text-anchor="middle" stroke="#111" stroke-width="0.22" >Oct</text>
<text transform="translate(968.2,461.0) scale(1,1.2)" font-size="9.7" font-weight="bold" fill="#111" text-anchor="middle" stroke="#fff" stroke-width="2.2" paint-order="stroke" stroke-linejoin="round">$6K</text>
<text transform="translate(968.2,461.0) scale(1,1.2)" font-size="9.7" font-weight="bold" fill="#111" text-anchor="middle" stroke="#111" stroke-width="0.1" >$6K</text>
<text transform="translate(994.0,571.7) scale(1,1.04)" font-size="8.2" font-weight="bold" fill="#111" text-anchor="middle" stroke="#111" stroke-width="0.22" >Feb</text>
<text transform="translate(994.5,476.6) scale(1,1.2)" font-size="9.7" font-weight="bold" fill="#111" text-anchor="middle" stroke="#fff" stroke-width="2.2" paint-order="stroke" stroke-linejoin="round">$5K</text>
<text transform="translate(994.5,476.6) scale(1,1.2)" font-size="9.7" font-weight="bold" fill="#111" text-anchor="middle" stroke="#111" stroke-width="0.1" >$5K</text>
<text transform="translate(1020.3,571.7) scale(1,1.04)" font-size="8.2" font-weight="bold" fill="#111" text-anchor="middle" stroke="#111" stroke-width="0.22" >Nov</text>
<text transform="translate(1020.8,461.9) scale(1,1.2)" font-size="9.7" font-weight="bold" fill="#111" text-anchor="middle" stroke="#fff" stroke-width="2.2" paint-order="stroke" stroke-linejoin="round">$6K</text>
<text transform="translate(1020.8,461.9) scale(1,1.2)" font-size="9.7" font-weight="bold" fill="#111" text-anchor="middle" stroke="#111" stroke-width="0.1" >$6K</text>
<text transform="translate(1046.7,571.7) scale(1,1.04)" font-size="8.2" font-weight="bold" fill="#111" text-anchor="middle" stroke="#111" stroke-width="0.22" >Aug</text>
<text transform="translate(1047.2,472.4) scale(1,1.2)" font-size="9.7" font-weight="bold" fill="#111" text-anchor="middle" stroke="#fff" stroke-width="2.2" paint-order="stroke" stroke-linejoin="round">$5K</text>
<text transform="translate(1047.2,472.4) scale(1,1.2)" font-size="9.7" font-weight="bold" fill="#111" text-anchor="middle" stroke="#111" stroke-width="0.1" >$5K</text>
<text transform="translate(1073.0,571.7) scale(1,1.04)" font-size="8.2" font-weight="bold" fill="#111" text-anchor="middle" stroke="#111" stroke-width="0.22" >Jul</text>
<text transform="translate(1099.3,571.7) scale(1,1.04)" font-size="8.2" font-weight="bold" fill="#111" text-anchor="middle" stroke="#111" stroke-width="0.22" >Apr</text>
<text transform="translate(1099.8,478.7) scale(1,1.2)" font-size="9.7" font-weight="bold" fill="#111" text-anchor="middle" stroke="#fff" stroke-width="2.2" paint-order="stroke" stroke-linejoin="round">$5K</text>
<text transform="translate(1099.8,478.7) scale(1,1.2)" font-size="9.7" font-weight="bold" fill="#111" text-anchor="middle" stroke="#111" stroke-width="0.1" >$5K</text>
<text transform="translate(1125.6,571.7) scale(1,1.04)" font-size="8.2" font-weight="bold" fill="#111" text-anchor="middle" stroke="#111" stroke-width="0.22" >Dec</text>
<text transform="translate(1126.1,460.1) scale(1,1.2)" font-size="9.7" font-weight="bold" fill="#111" text-anchor="middle" stroke="#fff" stroke-width="2.2" paint-order="stroke" stroke-linejoin="round">$6K</text>
<text transform="translate(1126.1,460.1) scale(1,1.2)" font-size="9.7" font-weight="bold" fill="#111" text-anchor="middle" stroke="#111" stroke-width="0.1" >$6K</text>
<text transform="translate(1152.0,571.7) scale(1,1.04)" font-size="8.2" font-weight="bold" fill="#111" text-anchor="middle" stroke="#111" stroke-width="0.22" >Mar</text>
<text transform="translate(1152.5,435.3) scale(1,1.2)" font-size="9.7" font-weight="bold" fill="#111" text-anchor="middle" stroke="#fff" stroke-width="2.2" paint-order="stroke" stroke-linejoin="round">$8K</text>
<text transform="translate(1152.5,435.3) scale(1,1.2)" font-size="9.7" font-weight="bold" fill="#111" text-anchor="middle" stroke="#111" stroke-width="0.1" >$8K</text>
<text transform="translate(1178.3,571.7) scale(1,1.04)" font-size="8.2" font-weight="bold" fill="#111" text-anchor="middle" stroke="#111" stroke-width="0.22" >Jun</text>
<text transform="translate(1178.8,447.0) scale(1,1.2)" font-size="9.7" font-weight="bold" fill="#111" text-anchor="middle" stroke="#fff" stroke-width="2.2" paint-order="stroke" stroke-linejoin="round">$7K</text>
<text transform="translate(1178.8,447.0) scale(1,1.2)" font-size="9.7" font-weight="bold" fill="#111" text-anchor="middle" stroke="#111" stroke-width="0.1" >$7K</text>
<text transform="translate(1204.6,571.7) scale(1,1.04)" font-size="8.2" font-weight="bold" fill="#111" text-anchor="middle" stroke="#111" stroke-width="0.22" >May</text>
<text transform="translate(1205.1,473.9) scale(1,1.2)" font-size="9.7" font-weight="bold" fill="#111" text-anchor="middle" stroke="#fff" stroke-width="2.2" paint-order="stroke" stroke-linejoin="round">$5K</text>
<text transform="translate(1205.1,473.9) scale(1,1.2)" font-size="9.7" font-weight="bold" fill="#111" text-anchor="middle" stroke="#111" stroke-width="0.1" >$5K</text>
</svg>
</div>
</body>
</html>
